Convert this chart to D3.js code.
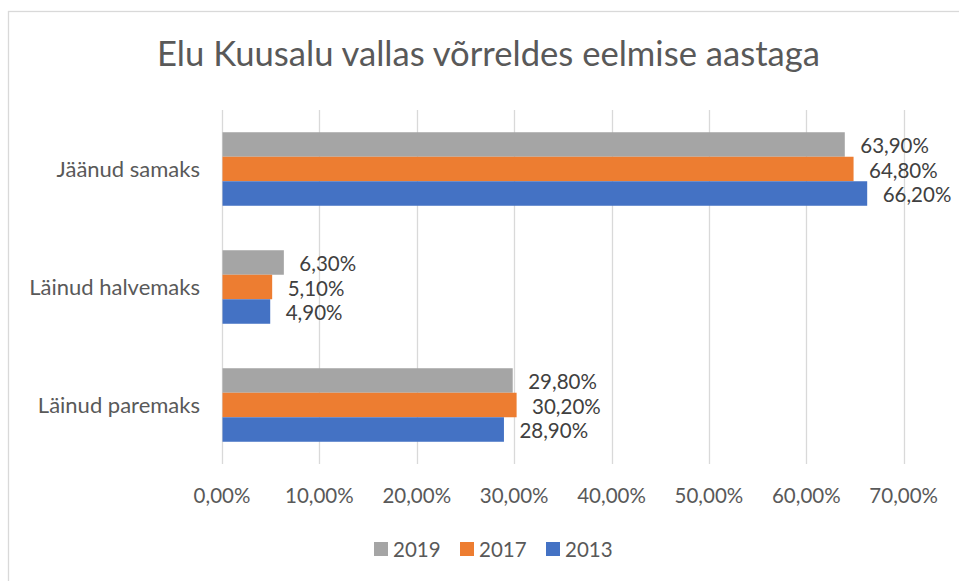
<!DOCTYPE html>
<html>
<head>
<meta charset="utf-8">
<script src="https://cdnjs.cloudflare.com/ajax/libs/d3/7.8.5/d3.min.js"></script>
<style>
  body { margin: 0; background: #fff; }
  text { font-family: Lato, "Open Sans", sans-serif; }
</style>
</head>
<body>
<div id="chart"></div>
<script>
// Data
const categories = ["Jäänud samaks", "Läinud halvemaks", "Läinud paremaks"];
const seriesNames = ["2019", "2017", "2013"];
const values2019 = [0.639, 0.063, 0.298];
const values2017 = [0.648, 0.051, 0.302];
const values2013 = [0.662, 0.049, 0.289];
const xTicks = [0, 0.1, 0.2, 0.3, 0.4, 0.5, 0.6, 0.7];
const titleText = "Elu Kuusalu vallas võrreldes eelmise aastaga";

const COLORS = { "2019": "#A5A5A5", "2017": "#ED7D31", "2013": "#4472C4" };

let width = 959;
let height = 581;
let svg = d3.select("#chart")
  .append("svg")
  .attr("width", width)
  .attr("height", height);

// Fragment of the page heading above the chart (blue descender, cut off as in the source)
svg.append("text")
  .attr("x", 764)
  .attr("y", -7)
  .attr("font-size", 40)
  .attr("fill", "#2F5597")
  .text("g");

// Chart area border
svg.append("rect")
  .attr("x", 8.5)
  .attr("y", 11.5)
  .attr("width", 1000)
  .attr("height", 700)
  .attr("fill", "none")
  .attr("stroke", "#D9D9D9")
  .attr("stroke-width", 1.3);

// Title, fitted to the reference width
let title = svg.append("text")
  .attr("x", 488.5)
  .attr("y", 66)
  .attr("text-anchor", "middle")
  .attr("fill", "#595959")
  .attr("font-size", 32)
  .text(titleText);
let titleLen = title.node().getComputedTextLength();
title.attr("font-size", 32 * 663 / titleLen);

const plot = { left: 222, right: 903.7, top: 110, bottom: 464 };

let x = d3.scaleLinear()
  .domain([0, 0.7])
  .range([plot.left, plot.right]);

let y = d3.scaleBand()
  .domain(categories)
  .range([plot.top, plot.bottom])
  .paddingInner(0.377)
  .paddingOuter(0.377 / 2);

let ySeries = d3.scaleBand()
  .domain(seriesNames)
  .range([0, y.bandwidth()]);

let locale = d3.formatLocale({ decimal: ",", thousands: " ", grouping: [3], currency: ["", "€"] });
let pct = locale.format(".2%");

// Gridlines
svg.append("g")
  .selectAll("line")
  .data(xTicks)
  .enter()
    .append("line")
    .attr("x1", d => Math.round(x(d)) + 0.5)
    .attr("x2", d => Math.round(x(d)) + 0.5)
    .attr("y1", plot.top)
    .attr("y2", plot.bottom)
    .attr("stroke", "#D9D9D9")
    .attr("stroke-width", 1.3);

// X tick labels
svg.append("g")
  .selectAll("text")
  .data(xTicks)
  .enter()
    .append("text")
    .attr("x", d => x(d))
    .attr("y", 503)
    .attr("text-anchor", "middle")
    .attr("fill", "#595959")
    .attr("font-size", 20.5)
    .text(d => pct(d));

// Category labels
let catLabels = svg.append("g")
  .selectAll("text")
  .data(categories)
  .enter()
    .append("text")
    .attr("x", 200)
    .attr("y", d => y(d) + y.bandwidth() / 2 + 7.5)
    .attr("text-anchor", "end")
    .attr("fill", "#595959")
    .attr("font-size", 20)
    .text(d => d);
let catLen = catLabels.node().getComputedTextLength();
catLabels.attr("font-size", Math.min(22, 20 * 146 / catLen));

// Bars
let rows = [];
let seriesValues = { "2019": values2019, "2017": values2017, "2013": values2013 };
categories.forEach((cat, i) => {
  seriesNames.forEach(s => {
    rows.push({ category: cat, series: s, value: seriesValues[s][i] });
  });
});

svg.append("g")
  .selectAll("rect")
  .data(rows)
  .enter()
    .append("rect")
    .attr("x", x(0) + 0.5)
    .attr("y", d => y(d.category) + ySeries(d.series))
    .attr("width", d => x(d.value) - x(0))
    .attr("height", ySeries.bandwidth())
    .attr("fill", d => COLORS[d.series]);

// Data labels
svg.append("g")
  .selectAll("text")
  .data(rows)
  .enter()
    .append("text")
    .attr("x", d => x(d.value) + 16)
    .attr("y", d => y(d.category) + ySeries(d.series) + ySeries.bandwidth() / 2 + 8.5)
    .attr("fill", "#404040")
    .attr("font-size", 20.5)
    .text(d => pct(d.value));

// Legend
let legend = svg.append("g");
let legendX = 374;
seriesNames.forEach(s => {
  legend.append("rect")
    .attr("x", legendX)
    .attr("y", 542)
    .attr("width", 14)
    .attr("height", 14)
    .attr("fill", COLORS[s]);
  legend.append("text")
    .attr("x", legendX + 19)
    .attr("y", 556.5)
    .attr("fill", "#595959")
    .attr("font-size", 20.5)
    .text(s);
  legendX += 86;
});
</script>
</body>
</html>
